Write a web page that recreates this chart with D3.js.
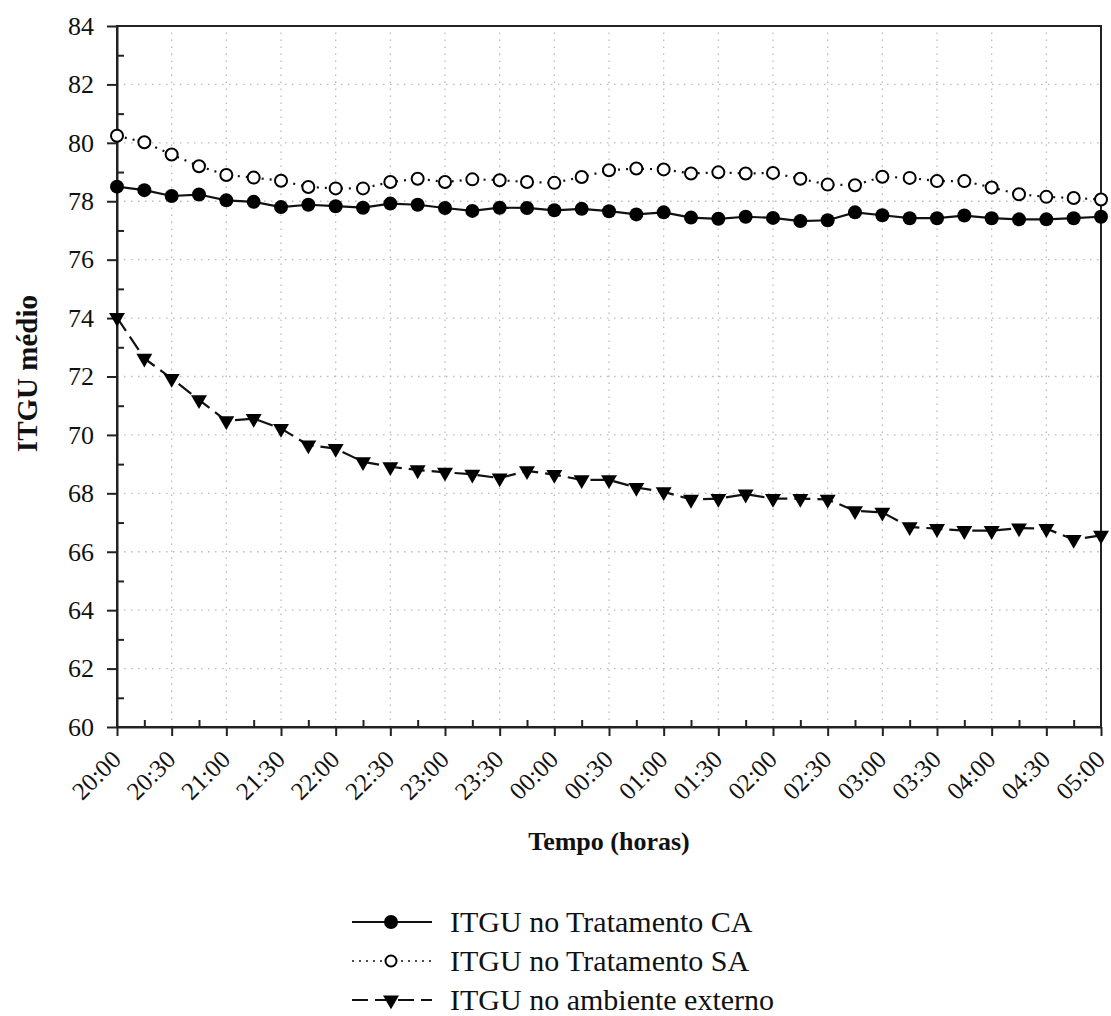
<!DOCTYPE html>
<html>
<head>
<meta charset="utf-8">
<script src="https://cdn.jsdelivr.net/npm/d3@7"></script>
<style>
  body { margin: 0; background: #fff; }
  svg, svg text { font-family: "Liberation Serif", "Times New Roman", serif; }
</style>
</head>
<body>
<svg id="chart" width="1111" height="1016"></svg>
<script>
// every 15 min from 20:00 to 05:00
const times = ['20:00','20:15','20:30','20:45','21:00','21:15','21:30','21:45','22:00','22:15','22:30','22:45',
  '23:00','23:15','23:30','23:45','00:00','00:15','00:30','00:45','01:00','01:15','01:30','01:45',
  '02:00','02:15','02:30','02:45','03:00','03:15','03:30','03:45','04:00','04:15','04:30','04:45','05:00'];

const tratamentoCA = [78.5, 78.38, 78.18, 78.23, 78.03, 77.98, 77.8, 77.88, 77.83, 77.78, 77.92, 77.88,
  77.77, 77.67, 77.78, 77.77, 77.69, 77.74, 77.66, 77.55, 77.62, 77.44, 77.4, 77.47, 77.43, 77.32,
  77.35, 77.62, 77.52, 77.42, 77.42, 77.51, 77.42, 77.38, 77.38, 77.42, 77.47];

const tratamentoSA = [80.24, 80.02, 79.6, 79.2, 78.9, 78.81, 78.7, 78.49, 78.44, 78.44, 78.66, 78.77,
  78.66, 78.75, 78.72, 78.66, 78.63, 78.83, 79.06, 79.12, 79.09, 78.95, 78.99, 78.95, 78.97, 78.77,
  78.57, 78.55, 78.84, 78.8, 78.69, 78.69, 78.47, 78.24, 78.15, 78.11, 78.06];

const ambienteExterno = [74.02, 72.62, 71.93, 71.2, 70.48, 70.56, 70.22, 69.65, 69.53, 69.08, 68.91, 68.8,
  68.72, 68.65, 68.52, 68.77, 68.64, 68.46, 68.46, 68.2, 68.05, 67.79, 67.82, 67.97, 67.82, 67.82,
  67.79, 67.4, 67.35, 66.85, 66.79, 66.72, 66.72, 66.81, 66.79, 66.42, 66.56];

const yTicks = [60, 62, 64, 66, 68, 70, 72, 74, 76, 78, 80, 82, 84];

const seriesNames = ['ITGU no Tratamento CA', 'ITGU no Tratamento SA', 'ITGU no ambiente externo'];

const svg = d3.select('#chart');
const margin = { left: 117, right: 10, top: 26, bottom: 289 };
const W = 1111, H = 1016;
const FONT = '"Liberation Serif", "Times New Roman", serif';

const x = d3.scalePoint().domain(times).range([margin.left, W - margin.right]);
const y = d3.scaleLinear().domain([60, 84]).range([H - margin.bottom, margin.top]);

const majorTimes = times.filter((d, i) => i % 2 === 0);
const minorTimes = times.filter((d, i) => i % 2 === 1);
const minorY = d3.range(61, 84, 2);

// grid
const grid = svg.append('g').attr('stroke', '#bbb').attr('stroke-width', 1.3).attr('stroke-dasharray', '1.5,5.5');
grid.selectAll('line.v').data(majorTimes.slice(1, -1)).enter().append('line')
  .attr('x1', d => x(d)).attr('x2', d => x(d)).attr('y1', y(60)).attr('y2', y(84));
grid.selectAll('line.h').data(yTicks.slice(1, -1)).enter().append('line')
  .attr('x1', x.range()[0]).attr('x2', x.range()[1]).attr('y1', d => y(d)).attr('y2', d => y(d));

// frame
svg.append('rect').attr('x', x.range()[0]).attr('y', y(84))
  .attr('width', x.range()[1] - x.range()[0]).attr('height', y(60) - y(84))
  .attr('fill', 'none').attr('stroke', '#222').attr('stroke-width', 2);

// axes
const xAxis = svg.append('g').attr('transform', `translate(0,${y(60)})`)
  .call(d3.axisBottom(x).tickValues(majorTimes).tickSize(9).tickSizeOuter(0));
xAxis.attr('font-family', FONT);
xAxis.select('.domain').attr('stroke-width', 2);
xAxis.selectAll('.tick line').attr('stroke-width', 2);
xAxis.selectAll('.tick text').attr('font-size', 25).attr('fill', '#111')
  .attr('text-anchor', 'end').attr('x', 0).attr('y', 0).attr('dy', 0)
  .attr('transform', 'translate(5,34) rotate(-45)');

svg.append('g').attr('transform', `translate(0,${y(60)})`)
  .call(d3.axisTop(x).tickValues(minorTimes).tickSize(7).tickFormat(''))
  .call(g => g.select('.domain').remove())
  .selectAll('.tick line').attr('stroke-width', 2);

const yAxis = svg.append('g').attr('transform', `translate(${x.range()[0]},0)`)
  .call(d3.axisLeft(y).tickValues(yTicks).tickSize(10).tickPadding(13).tickSizeOuter(0));
yAxis.attr('font-family', FONT);
yAxis.select('.domain').attr('stroke-width', 2);
yAxis.selectAll('.tick line').attr('stroke-width', 2);
yAxis.selectAll('.tick text').attr('font-size', 26).attr('fill', '#111');

svg.append('g').attr('transform', `translate(${x.range()[0]},0)`)
  .call(d3.axisRight(y).tickValues(minorY).tickSize(7).tickFormat(''))
  .call(g => g.select('.domain').remove())
  .selectAll('.tick line').attr('stroke-width', 2);

svg.selectAll('.tick line, .domain').attr('stroke', '#222');

// axis titles
svg.append('text').attr('x', (x.range()[0] + x.range()[1]) / 2).attr('y', 850)
  .attr('text-anchor', 'middle').attr('font-size', 26).attr('font-weight', 'bold').attr('fill', '#111')
  .text('Tempo (horas)');
svg.append('text').attr('transform', `translate(37,${y(72.1)}) rotate(-90)`)
  .attr('text-anchor', 'middle').attr('font-size', 29).attr('font-weight', 'bold').attr('fill', '#111')
  .text('ITGU médio');

// series
const line = d3.line().x((d, i) => x(times[i])).y(d => y(d));
const tri = d3.symbol().type(d3.symbolTriangle).size(110);

const series = [
  { values: tratamentoCA, dash: null, marker: 'filled' },
  { values: tratamentoSA, dash: '2,6', marker: 'open' },
  { values: ambienteExterno, dash: '16,7', marker: 'tri' }
];

function drawMarker(g, kind, small) {
  if (kind === 'filled') {
    g.append('circle').attr('r', 7).attr('fill', '#000');
  } else if (kind === 'open') {
    g.append('circle').attr('r', small ? 5.5 : 6).attr('fill', '#fff').attr('stroke', '#000').attr('stroke-width', 2);
  } else {
    g.append('path').attr('d', tri).attr('transform', 'rotate(180)').attr('fill', '#000');
  }
}

series.forEach(s => {
  svg.append('path').datum(s.values).attr('d', line).attr('fill', 'none')
    .attr('stroke', '#111').attr('stroke-width', 2.2)
    .attr('stroke-dasharray', s.dash);
  svg.append('g').selectAll('g').data(s.values).enter().append('g')
    .attr('transform', (d, i) => `translate(${x(times[i])},${y(d)})`)
    .each(function () { drawMarker(d3.select(this), s.marker, false); });
});

// legend
const legend = svg.append('g');
const legendY = [922, 961, 1000];
series.forEach((s, i) => {
  const row = legend.append('g').attr('transform', `translate(0,${legendY[i]})`);
  row.append('line').attr('x1', 352).attr('x2', 432).attr('y1', 0).attr('y2', 0)
    .attr('stroke', '#111').attr('stroke-width', i === 1 ? 1.5 : 2.2)
    .attr('stroke-dasharray', i === 0 ? null : (i === 1 ? '2,5' : '16,7'));
  drawMarker(row.append('g').attr('transform', 'translate(391,0)'), s.marker, true);
  row.append('text').attr('x', 450).attr('y', 10).attr('font-size', 30).attr('fill', '#111').text(seriesNames[i]);
});
</script>
</body>
</html>
